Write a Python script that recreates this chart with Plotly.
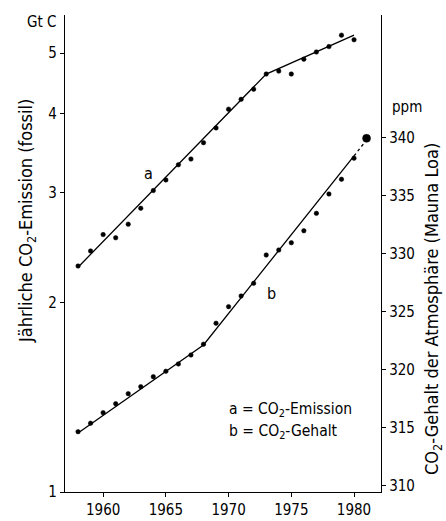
import plotly.graph_objects as go

years = list(range(1958, 1981))
emission = [2.29, 2.42, 2.57, 2.54, 2.67, 2.83, 3.02, 3.14, 3.32, 3.39, 3.60, 3.80,
            4.07, 4.22, 4.38, 4.63, 4.68, 4.63, 4.89, 5.02, 5.12, 5.34, 5.25]
years_b = list(range(1958, 1982))
ppm = [314.68, 315.41, 316.32, 317.09, 317.96, 318.56, 319.42, 319.89, 320.52, 321.29,
       322.22, 324.03, 325.46, 326.38, 327.47, 329.91, 330.34, 330.97, 332.0, 333.5,
       335.17, 336.44, 338.26, 339.97]
fit_a_x = [1958, 1973, 1980]
fit_a_y = [2.28, 4.63, 5.34]
fit_b_x = [1958, 1968, 1980]
fit_b_y = [314.57, 322.16, 338.45]
fit_b_dot_x = [1980, 1981]
fit_b_dot_y = [338.45, 339.83]

left_ticks = [1, 2, 3, 4, 5]
right_ticks = [310, 315, 320, 325, 330, 335, 340]
x_ticks = [1960, 1965, 1970, 1975, 1980]

FONT = "DejaVu Sans Condensed, DejaVu Sans, sans-serif"
W, H = 446, 521
L, R, T, B = 65, 381, 15, 492

def px(x):
    return (x - L) / (R - L)

def py(y):
    return (B - y) / (B - T)

fig = go.Figure()
fig.add_trace(go.Scatter(x=fit_a_x, y=fit_a_y, mode="lines",
                         line=dict(color="black", width=1.3), yaxis="y"))
fig.add_trace(go.Scatter(x=years, y=emission, mode="markers",
                         marker=dict(color="black", size=4.5, opacity=1,
                                     line=dict(color="black", width=0.5)), yaxis="y"))
fig.add_trace(go.Scatter(x=fit_b_x, y=fit_b_y, mode="lines",
                         line=dict(color="black", width=1.3), yaxis="y2"))
fig.add_trace(go.Scatter(x=fit_b_dot_x, y=fit_b_dot_y, mode="lines",
                         line=dict(color="black", width=1.3, dash="dot"), yaxis="y2"))
fig.add_trace(go.Scatter(x=years_b, y=ppm, mode="markers",
                         marker=dict(color="black", size=[4.5] * (len(ppm) - 1) + [8],
                                     opacity=1, line=dict(color="black", width=0.5)),
                         yaxis="y2"))

fig.update_layout(
    width=W, height=H,
    margin=dict(l=L, r=W - R, t=T, b=H - B, autoexpand=False),
    paper_bgcolor="white", plot_bgcolor="white",
    showlegend=False,
    font=dict(family=FONT, size=15, color="black"),
    xaxis=dict(range=[1956.96, 1982.15], tickvals=x_ticks, ticks="outside", ticklen=4,
               tickcolor="black", showline=True, linecolor="black", linewidth=1.3,
               showgrid=False, zeroline=False, tickfont=dict(size=15), automargin=False),
    yaxis=dict(type="log", range=[0, 0.7596], tickvals=left_ticks, ticks="outside",
               ticklen=4, tickcolor="black", showline=True, linecolor="black",
               linewidth=1.3, showgrid=False, zeroline=False, tickfont=dict(size=15),
               automargin=False),
    yaxis2=dict(overlaying="y", side="right", range=[309.48, 350.6], tickvals=right_ticks,
                ticks="outside", ticklen=4, tickcolor="black", showline=True,
                linecolor="black", linewidth=1.3, showgrid=False, zeroline=False,
                tickfont=dict(size=15), automargin=False),
)

def note(text, x, y, size=15, angle=0, xanchor="center", xref="paper", yref="paper"):
    return dict(text=text, x=x, y=y, xref=xref, yref=yref, showarrow=False,
                xanchor=xanchor, yanchor="middle", textangle=angle,
                font=dict(size=size))

ann = [
    note("Gt C", px(41), py(22)),
    note("ppm", px(407), py(107)),
    note("Jährliche CO<sub>2</sub>-Emission (fossil)", px(27), py(221), size=18, angle=-90),
    note("CO<sub>2</sub>-Gehalt der Atmosphäre (Mauna Loa)", px(433), py(309), size=18,
         angle=-90),
    note("a", 1963.58, 0.5075, size=16, xref="x", yref="y"),
    note("b", 1973.39, 326.6, size=16, xref="x", yref="y2"),
    note("a = CO<sub>2</sub>-Emission", px(227), py(410), size=15.5, xanchor="left"),
    note("b = CO<sub>2</sub>-Gehalt", px(227), py(432), size=15.5, xanchor="left"),
]
fig.update_layout(annotations=ann)
fig.write_html("out.html", config={"displayModeBar": False},
               post_script="document.body.style.margin='0';")
